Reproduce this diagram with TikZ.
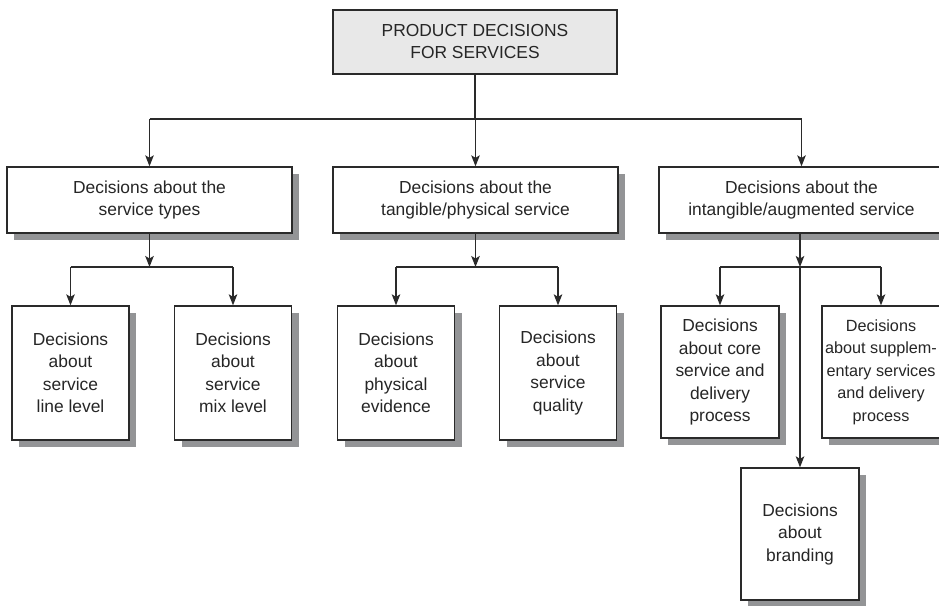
\documentclass[tikz,border=0pt]{standalone}
\usepackage{fontspec}
\setmainfont{Liberation Sans}
\usetikzlibrary{shadows,arrows.meta}
\definecolor{shadowgray}{HTML}{939496}
\definecolor{linegray}{HTML}{2A2A2A}
\definecolor{topfill}{HTML}{E8E8E8}
\tikzset{
  base/.style={draw=linegray, line width=1.3pt, align=center, inner sep=0pt,
    font=\fontsize{17.4}{22.5}\selectfont, text=black!85},
  box/.style={base, fill=white,
    drop shadow={shadow xshift=7pt, shadow yshift=-7pt, fill=shadowgray, opacity=1}},
  wide/.style={box, minimum width=285pt, minimum height=66pt},
  tall/.style={box, minimum width=117pt, minimum height=134pt},
  conn/.style={draw=linegray, line width=1.3pt},
  arr/.style={conn, -{Stealth[length=11pt,width=8.5pt,inset=2.5pt]}},
}
\begin{document}
\begin{tikzpicture}[x=1pt,y=-1pt]
\useasboundingbox (0,0) rectangle (939,605);
\clip (0,0) rectangle (939,605);
\fill[white] (0,0) rectangle (939,605);

\node[base, fill=topfill, minimum width=284pt, minimum height=64pt] (top) at (475,42)
  {PRODUCT DECISIONS\\[-0.5pt]FOR SERVICES};

\node[wide] (b1) at (149.5,200) {Decisions about the\\service types};
\node[wide] (b2) at (475.5,200) {Decisions about the\\tangible/physical service};
\node[wide] (b3) at (801.5,200) {Decisions about the\\intangible/augmented service};

\node[tall] (s1) at (70.5,373) {Decisions\\about\\service\\line level};
\node[tall] (s2) at (233,373) {Decisions\\about\\service\\mix level};
\node[tall] (s3) at (396,373) {Decisions\\about\\physical\\evidence};
\node[tall] (s4) at (558,373) {Decisions\\about\\service\\quality};
\node[tall, minimum width=118pt, minimum height=132pt] (c1) at (720,372)
  {Decisions\\about core\\service and\\delivery\\process};
\node[tall, minimum width=118pt, minimum height=132pt,
  font=\fontsize{16.2}{22.5}\selectfont] (c2) at (881,372)
  {Decisions\\about supplem-\\entary services\\and delivery\\process};
\node[tall, minimum width=118pt, minimum height=132pt] (c3) at (800,534)
  {Decisions\\about\\branding};

% top level
\coordinate (j0) at (475,119);
\draw[conn] (top.south) -- (j0);
\draw[conn] (b1.north |- j0) -- (b3.north |- j0);
\draw[arr] (b1.north |- j0) -- (b1.north);
\draw[arr] (b2.north |- j0) -- (b2.north);
\draw[arr] (b3.north |- j0) -- (b3.north);

% left branch
\coordinate (j1) at (149.5,267);
\draw[arr] (b1.south) -- (j1);
\draw[conn] (s1.north |- j1) -- (s2.north |- j1);
\draw[arr] (s1.north |- j1) -- (s1.north);
\draw[arr] (s2.north |- j1) -- (s2.north);

% middle branch
\coordinate (j2) at (475.5,267);
\draw[arr] (b2.south) -- (j2);
\draw[conn] (s3.north |- j2) -- (s4.north |- j2);
\draw[arr] (s3.north |- j2) -- (s3.north);
\draw[arr] (s4.north |- j2) -- (s4.north);

% right branch
\coordinate (j3) at (800,267);
\draw[arr] (b3.south -| j3) -- (j3);
\draw[conn] (c1.north |- j3) -- (c2.north |- j3);
\draw[arr] (c1.north |- j3) -- (c1.north);
\draw[arr] (c2.north |- j3) -- (c2.north);
\draw[arr] (j3) -- (c3.north);
\end{tikzpicture}
\end{document}
